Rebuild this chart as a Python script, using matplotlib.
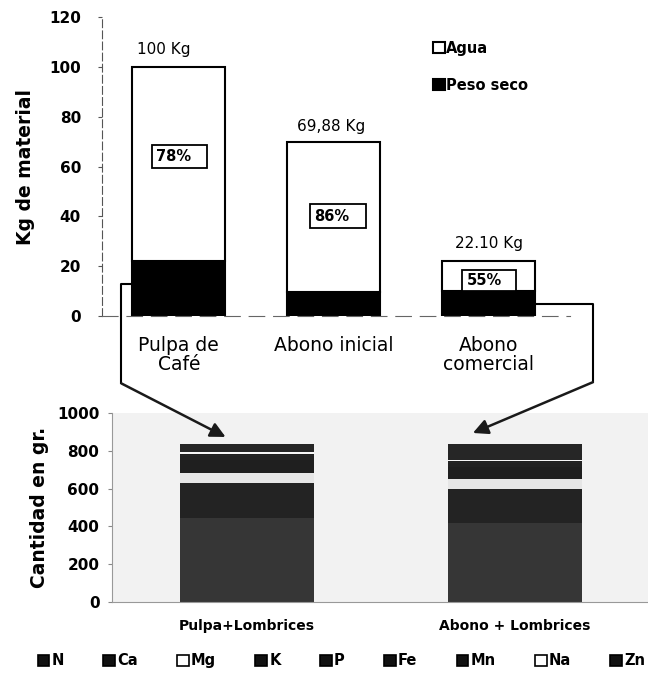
import matplotlib.pyplot as plt
from matplotlib.patches import Patch, Rectangle

plt.rcParams['font.family'] = ['DejaVu Sans']

# top chart: material weight
materiales = ['Pulpa de\nCafé', 'Abono inicial', 'Abono\ncomercial']
peso_seco = [22.0, 9.8, 9.9]
agua = [78.0, 60.08, 12.2]
totales = ['100 Kg', '69,88 Kg', '22.10 Kg']
pct_agua = ['78%', '86%', '55%']

# bottom chart: nutrients in grams
tratamientos = ['Pulpa+Lombrices', 'Abono + Lombrices']
nutrientes = ['N', 'Ca', 'Mg', 'K', 'P', 'Fe', 'Mn', 'Na', 'Zn']
gramos = {
    'N':  [444, 418],
    'Ca': [186, 180],
    'Mg': [52, 53],
    'K':  [70, 65],
    'P':  [22, 20],
    'Fe': [6, 6],
    'Mn': [5, 6],
    'Na': [6, 5],
    'Zn': [45, 83],
}
colores = ['#363636', '#232323', '#e6e6e6', '#1f1f1f', '#222222',
           '#252525', '#202020', '#f7f7f7', '#262626']
leyenda_col = ['#111111', '#111111', 'white', '#111111', '#111111',
               '#111111', '#111111', 'white', '#111111']

fig = plt.figure(figsize=(6.48, 6.77), dpi=100)

# ---------- top ----------
ax = fig.add_axes([0.157, 0.533, 0.722, 0.4417])
x = range(len(materiales))
ax.bar(x, peso_seco, width=0.6, color='black', edgecolor='black', lw=1.5, label='Peso seco')
ax.bar(x, agua, width=0.6, bottom=peso_seco, color='white', edgecolor='black', lw=1.5, label='Agua')
ax.set_xlim(-0.497, 2.52)
ax.set_ylim(0, 120)
ax.set_yticks(range(0, 121, 20))
ax.tick_params(axis='y', labelsize=11, length=3, width=0.8, color='#555555', pad=12)
for t in ax.get_yticklabels():
    t.set_fontweight('bold')
ax.set_xticks(list(x))
ax.set_xticklabels(materiales, fontsize=13.5, linespacing=1.0)
ax.tick_params(axis='x', length=0, pad=14)
ax.set_ylabel('Kg de material', fontsize=13.5, fontweight='bold', labelpad=10)
for s in ['top', 'right']:
    ax.spines[s].set_visible(False)
ax.spines['left'].set_color('#555555')
ax.spines['left'].set_linestyle((0, (7, 3)))
ax.spines['left'].set_linewidth(0.8)
ax.spines['bottom'].set_color('#666666')
ax.spines['bottom'].set_linestyle((0, (14, 8)))
ax.spines['bottom'].set_linewidth(0.8)

tot_pos = [(-0.1, 107), (0.98, 76), (2.0, 29)]
for (tx, ty), lab in zip(tot_pos, totales):
    ax.text(tx, ty, lab, ha='center', va='center', fontsize=11)

cajas = [(-0.175, 59.5, 0.355, 9.3), (0.845, 35.3, 0.36, 9.6), (1.826, 9.9, 0.348, 8.8)]
for (bx, by, bw, bh), lab in zip(cajas, pct_agua):
    ax.add_patch(Rectangle((bx, by), bw, bh, facecolor='white', edgecolor='black', lw=1.3, zorder=3))
    ax.text(bx + 0.03, by + bh / 2, lab, ha='left', va='center', fontsize=10.5,
            fontweight='bold', zorder=4)

h, l = ax.get_legend_handles_labels()
ax.legend(h[::-1], l[::-1], loc='upper left', bbox_to_anchor=(0.68, 0.965), frameon=False,
          prop={'weight': 'bold', 'size': 10.5}, handlelength=0.8, handleheight=0.8,
          handletextpad=0.1, labelspacing=1.5)

# ---------- bottom ----------
ax2 = fig.add_axes([0.1728, 0.111, 0.827, 0.279])
ax2.set_facecolor('#f2f2f2')
base = [0, 0]
for n, c in zip(nutrientes, colores):
    ax2.bar(range(len(tratamientos)), gramos[n], width=0.5, bottom=base, color=c, lw=0)
    base = [b + v for b, v in zip(base, gramos[n])]
ax2.set_xlim(-0.504, 1.496)
ax2.set_ylim(0, 1000)
ax2.set_yticks(range(0, 1001, 200))
ax2.tick_params(axis='y', labelsize=11, length=3, width=0.8, color='#888888', pad=6)
for t in ax2.get_yticklabels():
    t.set_fontweight('bold')
ax2.set_xticks(range(len(tratamientos)))
ax2.set_xticklabels(tratamientos, fontsize=10, fontweight='bold')
ax2.tick_params(axis='x', length=0, pad=12)
ax2.set_ylabel('Cantidad en gr.', fontsize=13.5, fontweight='bold', labelpad=6)
for s in ['top', 'right']:
    ax2.spines[s].set_visible(False)
ax2.spines['left'].set_color('#999999')
ax2.spines['bottom'].set_color('#999999')

handles = [Patch(facecolor=c, edgecolor='black', lw=1.2) for c in leyenda_col]
fig.legend(handles, nutrientes, loc='center', bbox_to_anchor=(0.527, 0.024), ncol=9,
           frameon=False, prop={'weight': 'bold', 'size': 10.5}, handlelength=0.8,
           handleheight=0.8, handletextpad=0.15, columnspacing=2.7)

# ---------- connectors ----------
ax.plot([-0.3, -0.37, -0.37], [13, 13, -27], color='black', lw=1.5, clip_on=False)
ax.plot([2.3, 2.67, 2.67], [4.8, 4.8, -26.5], color='black', lw=1.5, clip_on=False)
arrow = dict(arrowstyle='-|>,head_length=0.9,head_width=0.45', color='#1a1a1a', lw=1.8,
             shrinkA=0, shrinkB=0)
ax2.annotate('', xy=(-0.08, 873), xycoords='data', xytext=(-0.37, -27),
             textcoords=ax.transData, arrowprops=arrow)
ax2.annotate('', xy=(0.843, 894), xycoords='data', xytext=(2.67, -26.5),
             textcoords=ax.transData, arrowprops=arrow)

fig.savefig('out.png', dpi=100)
